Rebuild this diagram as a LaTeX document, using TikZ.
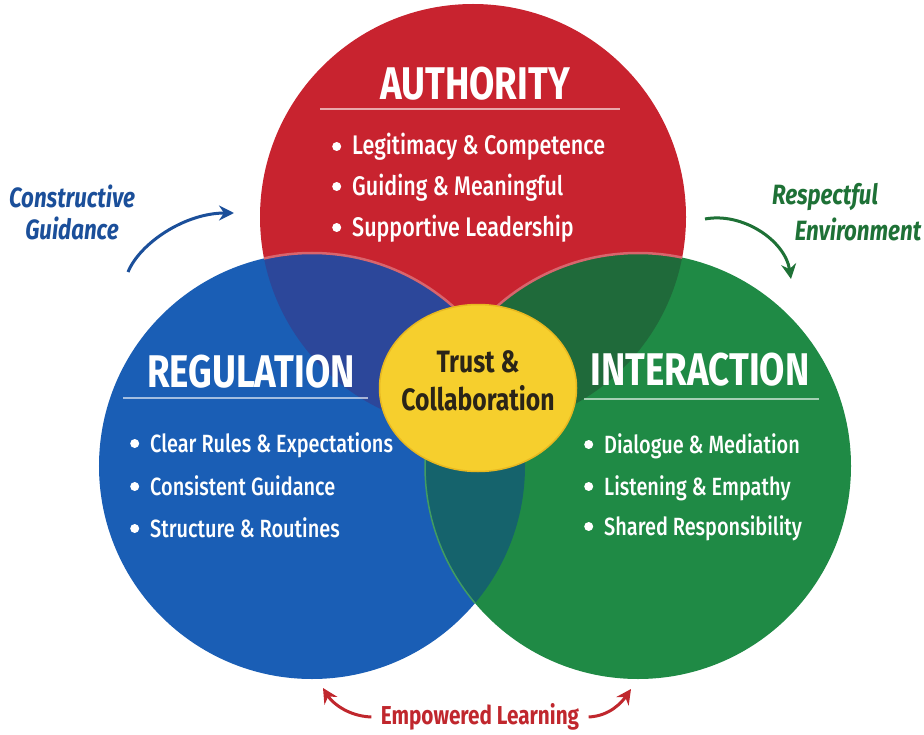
\documentclass[tikz,border=0pt]{standalone}
\usepackage{fontspec}
\setmainfont{Fira Sans}[FakeStretch=0.8, UprightFont=* Medium, BoldFont=* Bold, ItalicFont=* Medium Italic, BoldItalicFont=* Bold Italic]
\usepackage{xcolor}
\usepackage{tikz}
\usetikzlibrary{shapes.geometric, arrows.meta}
\definecolor{authred}{HTML}{C8232F}
\definecolor{regblue}{HTML}{1A5EB5}
\definecolor{intgreen}{HTML}{1F8A45}
\definecolor{rboverlap}{HTML}{2C479A}
\definecolor{rgoverlap}{HTML}{1F6A3A}
\definecolor{bgoverlap}{HTML}{15636C}
\definecolor{trustyellow}{HTML}{F6CF2D}
\definecolor{trustedge}{HTML}{E8B820}
\definecolor{darktext}{HTML}{2A2418}
\definecolor{guideblue}{HTML}{1B4F9A}
\definecolor{envgreen}{HTML}{1E7136}
\definecolor{learnred}{HTML}{C0272D}
\newcommand{\dotmark}{\tikz[baseline=-8.5bp]\fill[white] (0,0) circle [radius=4.5bp];\hspace{11bp}}

\begin{document}
\begin{tikzpicture}[x=1bp, y=-1bp]
    % Styles
    \tikzstyle{ring} = [circle, minimum size=426bp, inner sep=0pt]
    \tikzstyle{title} = [text=white, font=\fontsize{46}{50}\selectfont\bfseries, anchor=base]
    \tikzstyle{item} = [text=white, font=\fontsize{27}{30}\selectfont, anchor=base west, inner sep=0pt]
    \tikzstyle{smallitem} = [item, font=\fontsize{25}{30}\selectfont]
    \tikzstyle{rule} = [white, opacity=0.6, line width=1.5bp]
    \tikzstyle{sidelabel} = [font=\fontsize{28}{32}\selectfont\bfseries\itshape, align=center]
    \tikzstyle{curved} = [line width=3bp, -{Stealth[length=15bp, width=15bp, inset=5bp]}]

    \fill[white] (0,0) rectangle (924,735);
    \useasboundingbox (0,0) rectangle (924,735);

    % Circles
    \node[ring, fill=authred] (authcircle) at (473,217) {};
    \node[ring, fill=regblue] (regcircle) at (312,466) {};
    \node[ring, fill=intgreen] (intcircle) at (638,466) {};

    % Overlaps
    \begin{scope}
        \clip (authcircle.center) circle [radius=213bp];
        \fill[rboverlap] (regcircle.center) circle [radius=213bp];
        \fill[rgoverlap] (intcircle.center) circle [radius=213bp];
        \draw[authred!70!white, line width=2.5bp] (regcircle.center) circle [radius=213bp];
        \draw[authred!70!white, line width=2.5bp] (intcircle.center) circle [radius=213bp];
    \end{scope}
    \begin{scope}
        \clip (regcircle.center) circle [radius=213bp];
        \fill[bgoverlap] (intcircle.center) circle [radius=213bp];
        \draw[intgreen!85!white, line width=1.5bp] (intcircle.center) circle [radius=213bp];
    \end{scope}

    % Centre
    \node[ellipse, minimum width=197bp, minimum height=167bp, fill=trustyellow, draw=trustedge, line width=1.5bp] (trust) at (478,388) {};
    \node[text=darktext, font=\fontsize{31}{38}\selectfont\bfseries, align=center] (trustlabel) at (478,381) {Trust \&\\Collaboration};

    % Titles
    \node[title] (authtitle) at (475,100) {AUTHORITY};
    \node[title] (regtitle) at (251,387) {REGULATION};
    \node[title] (inttitle) at (700,385) {INTERACTION};
    \draw[rule] (320,109) -- (620,109);
    \draw[rule] (123,398) -- (368,398);
    \draw[rule] (584,399) -- (819,399);

    % Items
    \node[item] (auth1) at (332,155) {\dotmark Legitimacy \& Competence};
    \node[item] (auth2) at (332,195) {\dotmark Guiding \& Meaningful};
    \node[item] (auth3) at (332,236) {\dotmark Supportive Leadership};
    \node[smallitem] (reg1) at (130,452) {\dotmark Clear Rules \& Expectations};
    \node[smallitem] (reg2) at (130,495) {\dotmark Consistent Guidance};
    \node[smallitem] (reg3) at (130,537) {\dotmark Structure \& Routines};
    \node[smallitem] (int1) at (584,453) {\dotmark Dialogue \& Mediation};
    \node[smallitem] (int2) at (584,495) {\dotmark Listening \& Empathy};
    \node[smallitem] (int3) at (584,535) {\dotmark Shared Responsibility};

    % Side labels
    \node[sidelabel, text=guideblue] (guidance) at (72,212) {Constructive\\Guidance};
    \node[sidelabel, text=envgreen] (respectful) at (825,197) {Respectful};
    \node[sidelabel, text=envgreen] (environment) at (858,229) {Environment};
    \node[sidelabel, text=learnred, font=\fontsize{26}{30}\selectfont\bfseries] (learning) at (480,717) {Empowered Learning};

    % Arrows
    \coordinate (guidetail) at (128,272);
    \coordinate (guidetip) at (234,213);
    \coordinate (envtail) at (705,219);
    \coordinate (envtip) at (791,279);
    \coordinate (regtip) at (323,688);
    \coordinate (inttip) at (631,689);
    \draw[curved, guideblue] (guidetail) .. controls (140,243) and (185,213) .. (guidetip);
    \draw[curved, envgreen] (envtail) .. controls (742,212) and (785,240) .. (envtip);
    \draw[curved, learnred] ([xshift=-6bp]learning.west) .. controls (346,716) and (331,701) .. (regtip);
    \draw[curved, learnred] ([xshift=6bp]learning.east) .. controls (610,716) and (622,702) .. (inttip);
\end{tikzpicture}
\end{document}
